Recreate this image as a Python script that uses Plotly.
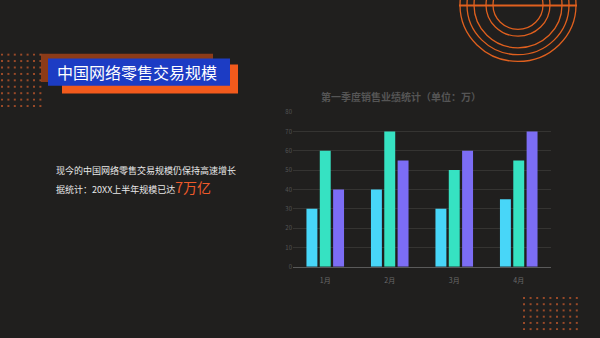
import plotly.graph_objects as go

W, H = 600, 338
categories = ["1月", "2月", "3月", "4月"]
series_a = [30, 40, 30, 35]
series_b = [60, 70, 50, 55]
series_c = [40, 55, 60, 70]
series_colors = ["#48d6f8", "#36e2c2", "#7c6df5"]
y_ticks = [0, 10, 20, 30, 40, 50, 60, 70, 80]

BG = "#201f1e"
FONT = "Noto Sans CJK SC"

def px(x):
    return x / W

def py(y):
    return 1 - y / H

fig = go.Figure()
for vals, col in zip([series_a, series_b, series_c], series_colors):
    fig.add_trace(go.Bar(x=categories, y=vals, marker=dict(color=col, line=dict(width=0)),
                         showlegend=False))

shapes = []
# title boxes
shapes.append(dict(type="rect", xref="paper", yref="paper", x0=px(41), x1=px(213), y0=py(79), y1=py(50),
                   fillcolor="#8c3b18", line=dict(width=0), layer="above"))
shapes.append(dict(type="rect", xref="paper", yref="paper", x0=px(62), x1=px(238), y0=py(91), y1=py(61),
                   fillcolor="#f25a1c", line=dict(width=0), layer="above"))
shapes.append(dict(type="rect", xref="paper", yref="paper", x0=px(48), x1=px(230), y0=py(83), y1=py(55),
                   fillcolor="#1c3cc4", line=dict(width=0), layer="above"))
# dots top-left
for r in range(9):
    for c in range(7):
        cx = 2 + c * 6.4
        cy = 51 + r * 6.6
        shapes.append(dict(type="rect", xref="paper", yref="paper", x0=px(cx - 1), x1=px(cx + 1),
                           y0=py(cy + 1), y1=py(cy - 1), fillcolor="#9a4a28", line=dict(width=0)))
# dots bottom-right
for r in range(6):
    for c in range(9):
        cx = 524 + c * 6.6
        cy = 301 + r * 6.4
        shapes.append(dict(type="rect", xref="paper", yref="paper", x0=px(cx - 1), x1=px(cx + 1),
                           y0=py(cy + 1), y1=py(cy - 1), fillcolor="#9a4a28", line=dict(width=0)))
# arcs top-right
for rad in [25, 32, 44, 51, 58]:
    shapes.append(dict(type="circle", xref="paper", yref="paper", x0=px(518 - rad), x1=px(518 + rad),
                       y0=py(rad), y1=py(-rad), line=dict(color="#e0601e", width=1.3)))
shapes.append(dict(type="line", xref="paper", yref="paper", x0=px(459), x1=px(577), y0=py(0.5), y1=py(0.5),
                   line=dict(color="#e0601e", width=2)))

annotations = [
    dict(text="中国网络零售交易规模", x=px(55), y=py(69), xref="paper", yref="paper", xanchor="left",
         yanchor="middle", showarrow=False, font=dict(family=FONT, size=16, color="#ffffff")),
    dict(text="<b>第一季度销售业绩统计（单位：万）</b>", x=px(401), y=py(94), xref="paper", yref="paper",
         xanchor="center", yanchor="middle", showarrow=False, font=dict(family=FONT, size=10, color="#555555")),
    dict(text="现今的中国网络零售交易规模仍保持高速增长", x=px(54), y=py(170), xref="paper", yref="paper",
         xanchor="left", yanchor="middle", showarrow=False, font=dict(family=FONT, size=9, color="#e8e8e8")),
    dict(text="据统计：20XX上半年规模已达<span style='font-size:14px;color:#ef5a2a'>7万亿</span>",
         x=px(54), y=py(187), xref="paper", yref="paper", xanchor="left", yanchor="middle",
         showarrow=False, font=dict(family=FONT, size=9, color="#e8e8e8")),
]

fig.update_layout(
    width=W, height=H, margin=dict(l=0, r=0, t=0, b=0),
    paper_bgcolor=BG, plot_bgcolor=BG,
    barmode="group", bargap=0.38, bargroupgap=0.18,
    shapes=shapes, annotations=annotations,
    xaxis=dict(domain=[px(293), px(551)], showgrid=False, showline=True, linecolor="#5a5a5a", linewidth=1,
               tickfont=dict(family=FONT, size=7, color="#6a6a6a"), ticks="", ticklabelstandoff=7,
               fixedrange=True),
    yaxis=dict(domain=[py(269), py(110)], range=[0, 80], tickvals=y_ticks, showgrid=True,
               gridcolor="#353432", gridwidth=1, zeroline=False, showline=False,
               tickfont=dict(family=FONT, size=6, color="#555555"), fixedrange=True),
    showlegend=False,
)

fig.write_html("out.html")
